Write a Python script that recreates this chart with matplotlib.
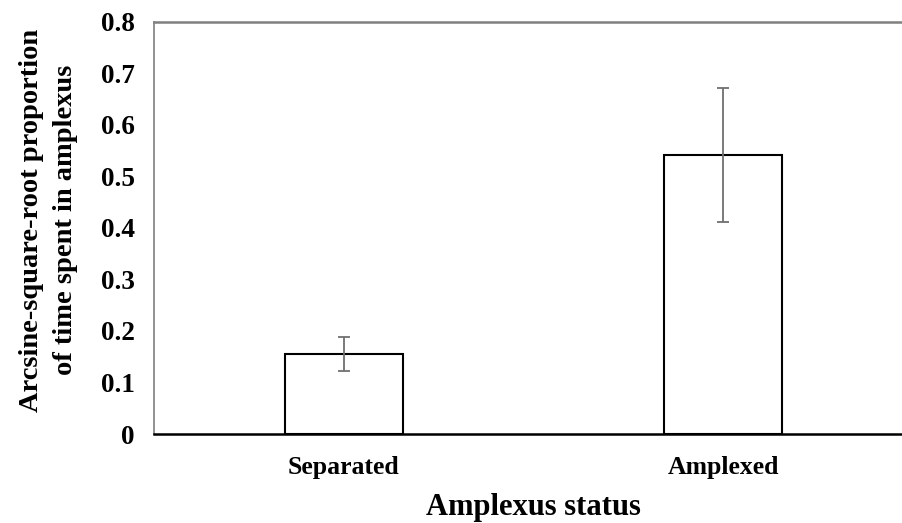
import matplotlib
matplotlib.use("Agg")
import matplotlib.pyplot as plt

categories = ["Separated", "Amplexed"]
means = [0.155, 0.542]
errors = [0.033, 0.130]
yticks = [0, 0.1, 0.2, 0.3, 0.4, 0.5, 0.6, 0.7, 0.8]
ytick_labels = ["0", "0.1", "0.2", "0.3", "0.4", "0.5", "0.6", "0.7", "0.8"]

plt.rcParams["font.family"] = ["Liberation Serif", "DejaVu Serif"]
plt.rcParams["font.weight"] = "bold"

fig = plt.figure(figsize=(9.03, 5.23), dpi=100)
ax = fig.add_axes([154 / 903, 1 - 434 / 523, 759 / 903, (434 - 21.5) / 523])

x = list(range(len(categories)))
ax.bar(x, means, width=0.31, color="white", edgecolor="black", linewidth=1.5, zorder=2)
ax.errorbar(x, means, yerr=errors, fmt="none", ecolor="#707070", elinewidth=1.3,
            capsize=4.6, capthick=1.3, zorder=3)

ax.set_xlim(-0.5, 1.5)
ax.set_ylim(0, 0.8)
ax.set_yticks(yticks)
ax.set_yticklabels(ytick_labels, fontsize=19.5, fontweight="bold")
ax.set_xticks(x)
ax.set_xticklabels(categories, fontsize=18.5, fontweight="bold")
ax.tick_params(axis="both", length=0)
ax.tick_params(axis="y", pad=14)
ax.tick_params(axis="x", pad=16)

ax.spines["right"].set_visible(False)
ax.spines["top"].set_color("#7f7f7f")
ax.spines["top"].set_linewidth(1.8)
ax.spines["left"].set_color("#7f7f7f")
ax.spines["left"].set_linewidth(1.2)
ax.spines["bottom"].set_color("black")
ax.spines["bottom"].set_linewidth(1.8)

ax.set_xlabel("Amplexus status", fontsize=22, fontweight="bold")
ax.set_ylabel("Arcsine-square-root proportion\nof time spent in amplexus",
              fontsize=20.5, fontweight="bold", linespacing=1.45)
ax.xaxis.set_label_coords((533.5 - 154) / 759, -58.5 / 412.5)
ax.yaxis.set_label_coords(-76 / 759, (434 - 220) / 412.5)

fig.savefig("out.png", dpi=100)
